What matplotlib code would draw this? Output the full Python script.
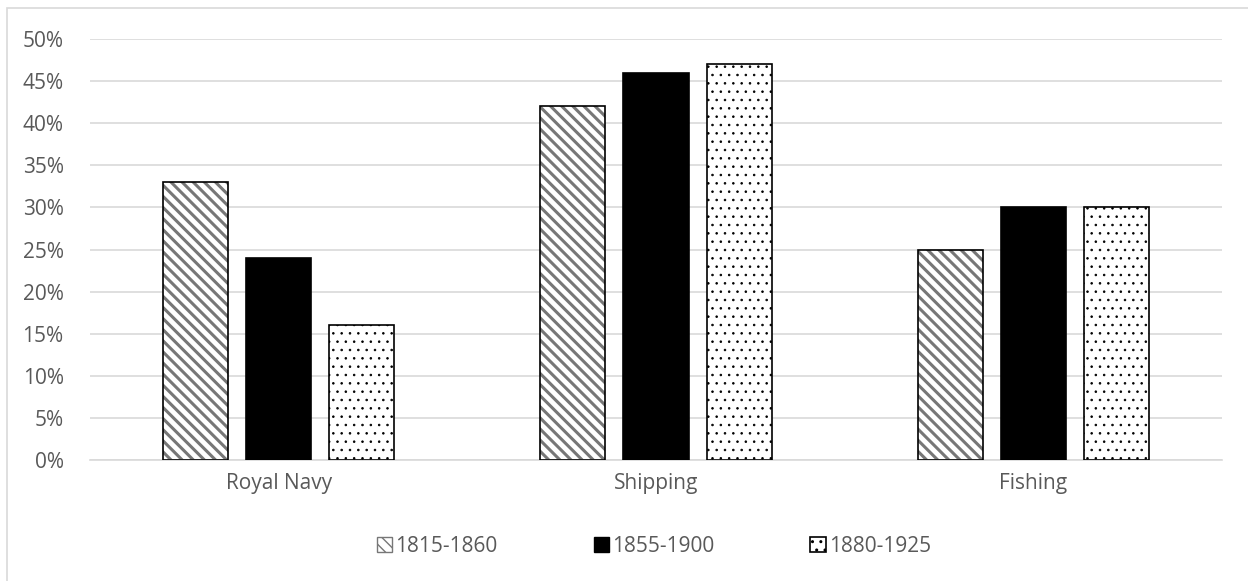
import numpy as np
import matplotlib as mpl
import matplotlib.pyplot as plt
from matplotlib.patches import Rectangle, Patch
from matplotlib.ticker import PercentFormatter

plt.rcParams['font.family'] = ['Open Sans', 'DejaVu Sans']

categories = ['Royal Navy', 'Shipping', 'Fishing']
periods = ['1815-1860', '1855-1900', '1880-1925']
share_1815 = [33, 42, 25]
share_1855 = [24, 46, 30]
share_1880 = [16, 47, 30]

text_col = '#595959'
grid_col = '#d9d9d9'
fs = 15

fig = plt.figure(figsize=(12.48, 5.81), dpi=100)
ax = fig.add_axes([90 / 1248, 1 - 460 / 581, 1132 / 1248, 421 / 581])

# light outer frame (only top/left edges fall inside the image)
fig.patches.append(Rectangle((7 / 1248, -0.1), 1.2, 1 - 8 / 581 + 0.1,
                             transform=fig.transFigure, fill=False,
                             edgecolor=grid_col, linewidth=1.2))

x = np.arange(len(categories))
w = 65 / 377
step = 83 / 377

# hatched series: grey hatch, then black outline on top
with mpl.rc_context({'hatch.linewidth': 2.2}):
    ax.bar(x - step, share_1815, w, color='white', edgecolor='#777777',
           hatch='\\\\\\', linewidth=0, zorder=2)
    h1 = Patch(facecolor='white', edgecolor='#777777', hatch='\\\\\\', linewidth=1)
ax.bar(x - step, share_1815, w, fill=False, edgecolor='black',
       linewidth=1.2, zorder=3)
ax.bar(x, share_1855, w, color='black', edgecolor='black', linewidth=1.2, zorder=3)
with mpl.rc_context({'hatch.linewidth': 0.6}):
    ax.bar(x + step, share_1880, w, color='white', edgecolor='black',
           hatch='..', linewidth=1.2, zorder=3)
    h3 = Patch(facecolor='white', edgecolor='black', hatch='..', linewidth=1.2)
h2 = Patch(facecolor='black', edgecolor='black')

ax.set_xlim(-0.5, 2.5)
ax.set_ylim(0, 50)
ax.set_yticks(np.arange(0, 51, 5))
ax.yaxis.set_major_formatter(PercentFormatter(decimals=0))
ax.set_xticks(x)
ax.set_xticklabels(categories)
ax.grid(axis='y', color=grid_col, linewidth=1.2, zorder=0)
ax.tick_params(length=0, labelsize=fs, colors=text_col, pad=9)
ax.tick_params(axis='y', pad=19)
for s in ['top', 'right', 'left']:
    ax.spines[s].set_visible(False)
ax.spines['bottom'].set_color(grid_col)
ax.spines['bottom'].set_linewidth(1.2)

fig.legend([h1, h2, h3], periods, loc='center', bbox_to_anchor=(0.524, 1 - 546 / 581),
           ncol=3, frameon=False, fontsize=fs, labelcolor=text_col,
           handlelength=0.75, handleheight=0.75, handletextpad=0.15,
           columnspacing=4.6)

fig.savefig('out.png', dpi=100)
